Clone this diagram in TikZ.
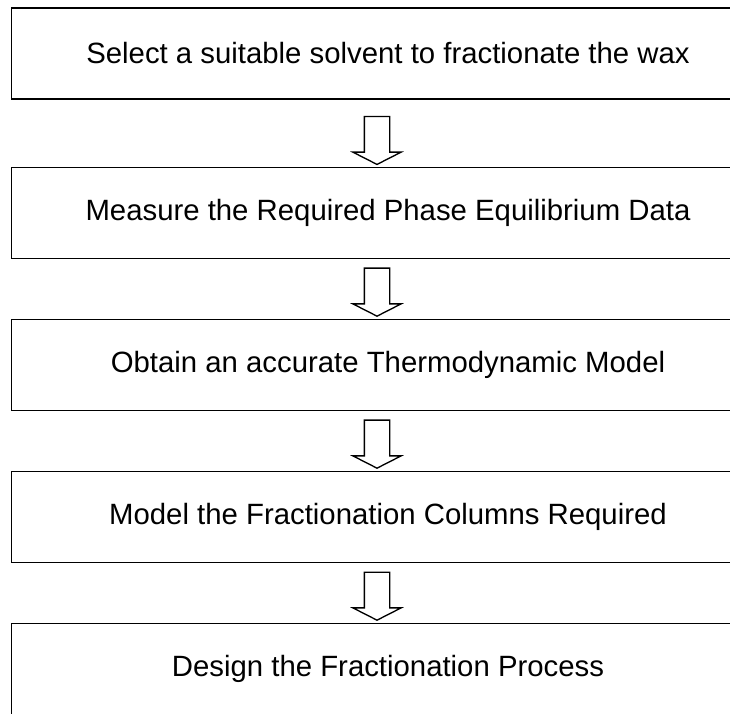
\documentclass[tikz,border=0pt]{standalone}
\usepackage{fontspec}
\setmainfont{Liberation Sans}
\usetikzlibrary{shapes.arrows,calc}
\tikzstyle{task} = [rectangle, minimum width=564.75pt, minimum height=68.25pt, text centered, draw=black, line width=1.3pt, font=\fontsize{22}{26}\selectfont]
\tikzstyle{downarrow} = [single arrow, rotate=-90, draw=black, line width=1pt, inner xsep=0pt, inner ysep=9pt, minimum height=36pt, single arrow head extend=8.6pt, single arrow tip angle=126]

\begin{document}
\begin{tikzpicture}[node distance=114pt]
  \useasboundingbox (0,0) rectangle (547.5pt,-534.75pt);
  \clip (0,0) rectangle (547.5pt,-534.75pt);
  \node (solvent)[task] at (291pt,-40.1pt){Select a suitable solvent to fractionate the wax};
  \node (data)[task, below of=solvent, node distance=119.6pt]{Measure the Required Phase Equilibrium Data};
  \node (model)[task, below of=data]{Obtain an accurate Thermodynamic Model};
  \node (column)[task, below of=model]{Model the Fractionation Columns Required};
  \node (design)[task, below of=column]{Design the Fractionation Process};
  % hollow arrows between the steps
  \node (a1)[downarrow] at ($(solvent.south)!0.5!(data.north)+(-8.25pt,-3pt)$){};
  \node (a2)[downarrow] at ($(data.south)!0.5!(model.north)+(-8.25pt,0)$){};
  \node (a3)[downarrow] at ($(model.south)!0.5!(column.north)+(-8.25pt,0)$){};
  \node (a4)[downarrow] at ($(column.south)!0.5!(design.north)+(-8.25pt,0)$){};
\end{tikzpicture}
\end{document}
